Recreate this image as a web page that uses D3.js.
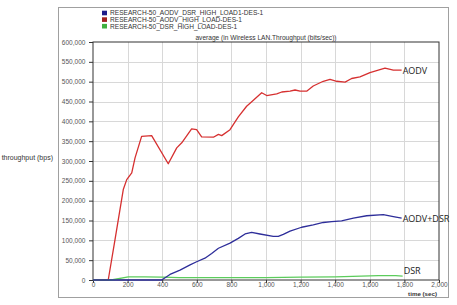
<!DOCTYPE html>
<html><head><meta charset="utf-8">
<script src="https://cdn.jsdelivr.net/npm/d3@7"></script>
<style>body{margin:0;background:#fff}svg{display:block}</style>
</head><body><svg id="c" width="457" height="305"></svg>
<script>
const seriesNames = ["RESEARCH-50_AODV_DSR_HIGH_LOAD1-DES-1","RESEARCH-50_AODV_HIGH_LOAD-DES-1","RESEARCH-50_DSR_HIGH_LOAD-DES-1"];
const legendColors = ["#1c1c8a","#a02020","#40b040"];
const lineColors = ["#2e2e9a","#d63030","#5ccc5c"];
const xTicks = [0,200,400,600,800,1000,1200,1400,1600,1800,2000];
const yTicks = [0,50000,100000,150000,200000,250000,300000,350000,400000,450000,500000,550000,600000];
const aodvDsrT = [0,397,445,503,561,599,647,686,725,792,840,879,917,965,1042,1071,1100,1139,1206,1273,1331,1380,1437,1505,1582,1678,1736,1784];
const aodvDsrV = [0,0,14000,25000,38000,46000,55000,67000,80000,93000,105000,116000,120000,116000,110000,110000,115000,123000,133000,139000,145000,147000,149000,156000,162000,165000,160000,156000];
const aodvT = [0,88,127,175,195,224,243,281,339,435,484,513,570,599,628,696,725,744,792,840,888,927,975,1004,1062,1091,1139,1168,1197,1235,1273,1331,1370,1409,1457,1495,1543,1601,1649,1688,1736,1784];
const aodvV = [0,0,101000,228000,253000,270000,308000,362000,364000,293000,333000,346000,381000,379000,361000,360000,367000,364000,379000,411000,438000,453000,472000,465000,469000,474000,476000,479000,476000,476000,489000,501000,506000,501000,499000,508000,512000,523000,529000,534000,529000,529000];
const dsrT = [0,105,204,300,400,500,600,800,1000,1200,1400,1550,1650,1750,1790];
const dsrV = [0,0,8000,8000,7000,6000,6000,6000,6000,7000,8000,10000,11000,11000,10000];
const endLabels = ["AODV+DSR","AODV","DSR"];

const svg = d3.select("#c");
const L=93,R=439,T=42,B=280;
const x = d3.scaleLinear().domain([0,2000]).range([L,R]);
const y = d3.scaleLinear().domain([0,600000]).range([B,T]);

// outer frame
svg.append("rect").attr("x",58.5).attr("y",7.5).attr("width",390).attr("height",290)
  .attr("fill","none").attr("stroke","#a0a0a0").attr("stroke-width",1);

// grid
const g = svg.append("g");
g.selectAll(".gx").data(xTicks.slice(1,-1)).join("line")
  .attr("x1",d=>Math.round(x(d))+0.5).attr("x2",d=>Math.round(x(d))+0.5).attr("y1",T).attr("y2",B)
  .attr("stroke","#d8d8d8").attr("stroke-width",1);
g.selectAll(".gy").data(yTicks.slice(1,-1)).join("line")
  .attr("y1",d=>Math.round(y(d))+0.5).attr("y2",d=>Math.round(y(d))+0.5).attr("x1",L).attr("x2",R)
  .attr("stroke","#d8d8d8").attr("stroke-width",1);

// plot frame
svg.append("rect").attr("x",L).attr("y",T).attr("width",R-L).attr("height",B-T)
  .attr("fill","none").attr("stroke","#333").attr("stroke-width",1);

// axes
const ax = svg.append("g").attr("transform",`translate(0,${B})`)
  .call(d3.axisBottom(x).tickValues(xTicks).tickSize(3).tickFormat(d3.format(",")));
ax.select(".domain").remove();
ax.selectAll("text").attr("font-family","Arial, 'Liberation Sans', sans-serif").attr("font-size",6.5).attr("fill","#555").attr("y",2).attr("dy","0.71em");
ax.selectAll("line").attr("stroke","#333");
const ay = svg.append("g").attr("transform",`translate(${L},0)`)
  .call(d3.axisLeft(y).tickValues(yTicks).tickSize(4).tickFormat(d3.format(",")));
ay.select(".domain").remove();
ay.selectAll("text").attr("font-family","Arial, 'Liberation Sans', sans-serif").attr("font-size",6.5).attr("fill","#555").attr("dx","-0.1em");
ay.selectAll("line").attr("stroke","#333");

// lines
const mk = (ts,vs)=>ts.map((t,i)=>[t,vs[i]]);
const data = [mk(aodvDsrT,aodvDsrV), mk(aodvT,aodvV), mk(dsrT,dsrV)];
const line = d3.line().x(d=>x(d[0])).y(d=>y(d[1]));
[1,2,0].forEach(i=>{
  svg.append("path").datum(data[i]).attr("d",line).attr("fill","none")
    .attr("stroke",lineColors[i]).attr("stroke-width",1.3).attr("stroke-linejoin","round");
});

// end labels
endLabels.forEach((t,i)=>{
  const last = data[i][data[i].length-1];
  svg.append("text").attr("x",x(last[0])+1).attr("y",y(last[1])+3.5)
    .attr("font-family","'Open Sans', 'DejaVu Sans', sans-serif").attr("font-size",9).attr("fill","#222")
    .attr("dy", i===2 ? "-0.6em" : "0").text(t);
});

// legend
seriesNames.forEach((n,i)=>{
  const yy = 13 + i*6.6;
  svg.append("rect").attr("x",102).attr("y",yy-2.3).attr("width",5).attr("height",4.6).attr("fill",legendColors[i]);
  svg.append("text").attr("x",110).attr("y",yy+2.3).attr("font-family","Arial, 'Liberation Sans', sans-serif")
    .attr("font-size",6.6).attr("fill","#333").text(n);
});

// title
svg.append("text").attr("x",(L+R)/2).attr("y",39.5).attr("text-anchor","middle")
  .attr("font-family","Arial, 'Liberation Sans', sans-serif").attr("font-size",6.6).attr("fill","#333")
  .text("average (in Wireless LAN.Throughput (bits/sec))");

// axis titles
svg.append("text").attr("x",53).attr("y",159.5).attr("text-anchor","end")
  .attr("font-family","Arial, 'Liberation Sans', sans-serif").attr("font-size",7).attr("fill","#333")
  .text("throughput (bps)");
svg.append("text").attr("x",437).attr("y",296).attr("text-anchor","end")
  .attr("font-family","Arial, 'Liberation Sans', sans-serif").attr("font-size",6.2).attr("font-weight","bold").attr("fill","#333")
  .text("time (sec)");
</script></body></html>
